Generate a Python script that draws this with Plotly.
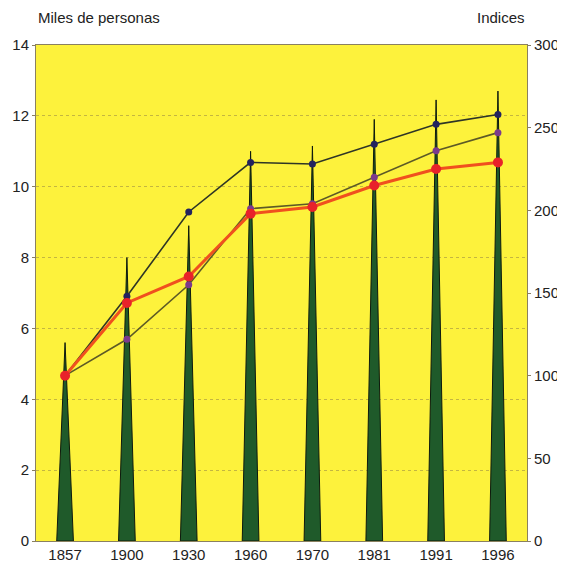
import plotly.graph_objects as go

years = ["1857", "1900", "1930", "1960", "1970", "1981", "1991", "1996"]
miles_personas = [5.6, 8.0, 8.9, 11.0, 11.15, 11.9, 12.45, 12.7]
indice_rojo = [100, 144, 160, 198, 202, 215, 225, 229]
indice_azul = [100, 148, 199, 229, 228, 240, 252, 258]
indice_violeta = [100, 122, 155, 201, 204, 220, 236, 247]
left_ticks = [0, 2, 4, 6, 8, 10, 12, 14]
right_ticks = [0, 50, 100, 150, 200, 250, 300]

FONT = "Liberation Sans, Arial, sans-serif"
HW = 0.135  # half width of spike base in category units (style)

fig = go.Figure()
xs = list(range(len(years)))

# spikes (left axis)
for i, v in zip(xs, miles_personas):
    fig.add_trace(go.Scatter(
        x=[i - HW, i, i + HW, i - HW], y=[0, v, 0, 0],
        mode="lines", fill="toself", fillcolor="#1f5a2a",
        line=dict(color="#0e1a0e", width=1), hoverinfo="skip",
        showlegend=False, yaxis="y"))

# index lines (right axis)
fig.add_trace(go.Scatter(
    x=xs, y=indice_violeta, yaxis="y2", mode="lines+markers",
    line=dict(color="#5d5a26", width=1.6),
    marker=dict(color="#7b3a8c", size=7), showlegend=False))
fig.add_trace(go.Scatter(
    x=xs, y=indice_azul, yaxis="y2", mode="lines+markers",
    line=dict(color="#2e3526", width=1.6),
    marker=dict(color="#23235e", size=7), showlegend=False))
fig.add_trace(go.Scatter(
    x=xs, y=indice_rojo, yaxis="y2", mode="lines+markers",
    line=dict(color="#f0501e", width=3),
    marker=dict(color="#e8222a", size=10), showlegend=False))

W, H = 557, 555
ML, MR, MT, MB = 28, 38, 37, 22
plot_h = H - MT - MB
ypaper = 1 + (MT - 9) / plot_h

fig.update_layout(
    width=W, height=H,
    margin=dict(l=ML, r=MR, t=MT, b=MB, autoexpand=False),
    paper_bgcolor="white", plot_bgcolor="#fdf23c",
    font=dict(family=FONT, size=15, color="#222222"),
    xaxis=dict(
        range=[-0.47, 7.47], tickvals=xs, ticktext=years,
        showgrid=False, zeroline=False, showline=True, linecolor="#8a8060",
        linewidth=1, mirror=True, ticks="", automargin=False),
    yaxis=dict(
        range=[0, 14], tickvals=left_ticks, showgrid=True,
        gridcolor="#c4b640", griddash="dot", gridwidth=1,
        zeroline=False, showline=True, linecolor="#8a8060", linewidth=1,
        ticks="outside", ticklen=3, tickcolor="#8a8060", automargin=False),
    yaxis2=dict(
        range=[0, 300], tickvals=right_ticks, overlaying="y", side="right",
        showgrid=False, zeroline=False, showline=True, linecolor="#8a8060",
        linewidth=1, ticks="outside", ticklen=3, tickcolor="#8a8060",
        automargin=False),
    annotations=[
        dict(text="Miles de personas", x=0, xref="paper", xanchor="left",
             y=ypaper, yref="paper", yanchor="middle", showarrow=False,
             font=dict(size=15)),
        dict(text="Indices", x=1, xref="paper", xanchor="right",
             y=ypaper, yref="paper", yanchor="middle", showarrow=False,
             font=dict(size=15)),
    ],
)

fig.write_html("out.html")
